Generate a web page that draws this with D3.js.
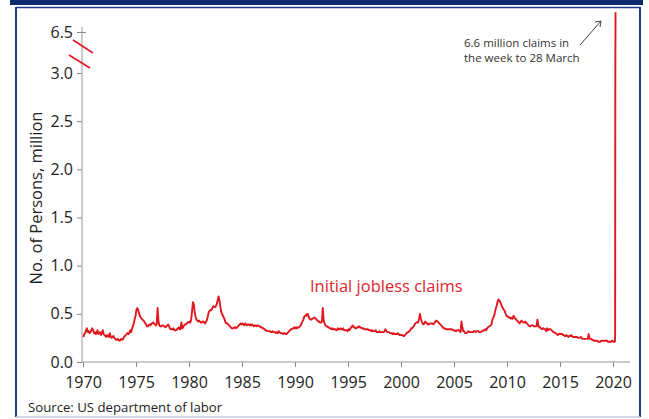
<!DOCTYPE html>
<html>
<head>
<meta charset="utf-8">
<script src="https://cdn.jsdelivr.net/npm/d3@7"></script>
<style>
  body { margin: 0; background: #fff; }
  text { font-family: "Open Sans", sans-serif; }
</style>
</head>
<body>
<script>
// monthly initial claims, thousands, Jan 1970 .. Feb 2020
var startYear = 1970;
var claims = [
  260, 290, 300, 330, 350, 310, 320, 300, 310, 330, 350, 330,
  300, 310, 290, 300, 330, 290, 300, 310, 280, 300, 330, 290,
  280, 270, 260, 280, 270, 260, 300, 260, 250, 260, 270, 250,
  240, 230, 230, 240, 230, 220, 230, 240, 230, 240, 260, 270,
  280, 290, 300, 290, 300, 330, 310, 340, 370, 400, 440, 480,
  540, 560, 540, 510, 480, 460, 450, 440, 430, 420, 400, 390,
  370, 370, 380, 390, 380, 400, 400, 410, 400, 390, 380, 390,
  560, 420, 380, 370, 370, 380, 380, 370, 370, 360, 370, 380,
  390, 370, 350, 340, 340, 340, 350, 330, 330, 330, 340, 350,
  360, 340, 340, 410, 350, 360, 380, 390, 390, 400, 410, 410,
  420, 410, 440, 520, 620, 600, 520, 470, 440, 430, 420, 430,
  420, 410, 410, 420, 420, 410, 400, 420, 440, 480, 520, 530,
  540, 540, 560, 580, 570, 570, 580, 600, 640, 680, 640, 580,
  520, 500, 480, 460, 440, 410, 400, 400, 390, 380, 370, 360,
  350, 350, 350, 360, 360, 350, 360, 370, 380, 390, 400, 390,
  400, 390, 380, 400, 390, 380, 390, 390, 380, 390, 380, 390,
  380, 370, 380, 380, 370, 380, 380, 370, 370, 360, 360, 350,
  350, 340, 330, 330, 320, 320, 320, 320, 310, 310, 320, 310,
  310, 310, 300, 310, 300, 320, 310, 300, 300, 300, 290, 300,
  300, 290, 290, 300, 310, 320, 330, 340, 340, 350, 350, 360,
  350, 360, 350, 360, 360, 370, 380, 400, 420, 440, 470, 480,
  480, 500, 500, 470, 450, 440, 440, 450, 450, 460, 460, 450,
  440, 430, 420, 420, 410, 410, 420, 560, 430, 400, 380, 370,
  370, 360, 360, 350, 350, 340, 350, 340, 340, 340, 330, 330,
  350, 340, 340, 350, 340, 340, 350, 330, 330, 330, 330, 320,
  340, 330, 340, 360, 370, 380, 360, 360, 350, 350, 360, 360,
  370, 360, 360, 350, 350, 350, 340, 340, 340, 340, 340, 330,
  330, 330, 320, 330, 320, 320, 320, 330, 310, 310, 310, 320,
  310, 310, 310, 310, 310, 320, 340, 320, 310, 310, 310, 300,
  300, 300, 290, 300, 290, 290, 290, 290, 300, 290, 280, 280,
  280, 280, 270, 270, 280, 290, 300, 310, 310, 320, 330, 350,
  350, 360, 370, 390, 400, 410, 410, 410, 450, 500, 450, 420,
  400, 390, 400, 420, 410, 400, 390, 390, 400, 400, 400, 400,
  390, 400, 410, 430, 430, 420, 410, 400, 390, 380, 370, 360,
  350, 350, 340, 340, 340, 340, 340, 340, 340, 340, 330, 330,
  330, 320, 320, 330, 330, 330, 320, 310, 420, 360, 320, 320,
  300, 300, 300, 310, 320, 310, 310, 310, 310, 310, 320, 320,
  310, 320, 320, 320, 310, 310, 310, 320, 320, 330, 330, 340,
  330, 350, 360, 370, 370, 380, 390, 440, 460, 480, 520, 560,
  590, 630, 650, 640, 620, 600, 570, 560, 540, 530, 500, 480,
  470, 470, 460, 460, 450, 460, 450, 480, 460, 450, 440, 430,
  420, 410, 400, 420, 430, 420, 410, 410, 420, 410, 400, 390,
  380, 370, 370, 380, 380, 380, 370, 370, 370, 370, 440, 380,
  360, 360, 350, 340, 350, 350, 340, 340, 320, 350, 330, 340,
  340, 340, 330, 320, 310, 310, 300, 300, 290, 280, 290, 290,
  290, 290, 290, 280, 280, 270, 270, 280, 270, 260, 270, 270,
  280, 270, 260, 260, 260, 260, 260, 260, 250, 250, 250, 260,
  250, 240, 240, 240, 240, 240, 240, 240, 290, 240, 240, 240,
  230, 230, 220, 220, 220, 220, 220, 210, 210, 210, 220, 220,
  220, 220, 220, 220, 220, 220, 210, 210, 210, 210, 220, 220,
  210, 210
];
// the last weeks of March 2020
var marchWeeks = ["2020-03-07", "2020-03-14", "2020-03-21", "2020-03-28"];
var marchClaims = [211, 282, 3307, 6648];

var yTicks = [0, 0.5, 1.0, 1.5, 2.0, 2.5, 3.0, 6.5];
var xTicks = [1970, 1975, 1980, 1985, 1990, 1995, 2000, 2005, 2010, 2015, 2020];

var width = 649, height = 419;
var red = "#e3161e";

var svg = d3.select("body").append("svg")
    .attr("width", width)
    .attr("height", height);

// frame
svg.append("rect").attr("x", 10).attr("y", 0).attr("width", 633).attr("height", 5).attr("fill", "#0c2a6e");
svg.append("line").attr("x1", 16).attr("x2", 640).attr("y1", 7.5).attr("y2", 7.5).attr("stroke", "#1c3c8c").attr("stroke-width", 1.5);
svg.append("line").attr("x1", 16).attr("x2", 16).attr("y1", 7).attr("y2", 417).attr("stroke", "#1c3c8c").attr("stroke-width", 2);
svg.append("line").attr("x1", 640).attr("x2", 640).attr("y1", 7).attr("y2", 417).attr("stroke", "#1c3c8c").attr("stroke-width", 2);
svg.append("line").attr("x1", 16).attr("x2", 640).attr("y1", 417).attr("y2", 417).attr("stroke", "#c5cde0").attr("stroke-width", 1.5);

var parse = d3.timeParse("%Y-%m-%d");
var data = claims.map(function(v, i) {
    return { date: new Date(startYear + Math.floor(i / 12), i % 12, 15), value: v / 1000 };
});
marchWeeks.forEach(function(d, i) {
    data.push({ date: parse(d), value: marchClaims[i] / 1000 });
});

var x = d3.scaleTime()
    .domain([new Date(1970, 0, 1), new Date(2020, 0, 1)])
    .range([83, 613]);

// broken axis: 0-3 is linear, then compressed to 6.5 and the spike
var y = d3.scaleLinear()
    .domain([0, 3, 6.5, 6.65])
    .range([362, 73, 32, 12]);

// y axis
var yAxis = svg.append("g")
    .attr("transform", "translate(82,0)")
    .call(d3.axisLeft(y).tickValues(yTicks).tickSize(5).tickPadding(4)
        .tickFormat(d3.format(".1f")));
yAxis.select(".domain").remove();
yAxis.append("line").attr("y1", 27).attr("y2", 362).attr("stroke", "#999");
yAxis.selectAll(".tick line").attr("stroke", "#888");
yAxis.selectAll(".tick text").attr("fill", "#222").style("font-size", "16px");
yAxis.selectAll(".tick").filter(function(d) { return d === 6.5; })
    .select("line").attr("x1", 4);

// x axis
var xAxis = svg.append("g")
    .attr("transform", "translate(0,362)")
    .call(d3.axisBottom(x)
        .tickValues(xTicks.map(function(d) { return new Date(d, 0, 1); }))
        .tickSize(5).tickPadding(10).tickFormat(d3.timeFormat("%Y")));
xAxis.select(".domain").remove();
xAxis.append("line").attr("x1", 82).attr("x2", 630).attr("stroke", "#999");
xAxis.selectAll(".tick line").attr("stroke", "#888");
xAxis.selectAll(".tick text").attr("fill", "#222").style("font-size", "16px");

// axis break marks
svg.append("line").attr("x1", 73).attr("y1", 40).attr("x2", 93).attr("y2", 53)
    .attr("stroke", red).attr("stroke-width", 1.5);
svg.append("line").attr("x1", 69).attr("y1", 55).attr("x2", 90).attr("y2", 68)
    .attr("stroke", red).attr("stroke-width", 1.5);

// line
var line = d3.line()
    .x(function(d) { return x(d.date); })
    .y(function(d) { return y(d.value); });

svg.append("path")
    .datum(data)
    .attr("fill", "none")
    .attr("stroke", red)
    .attr("stroke-width", 1.9)
    .attr("stroke-linejoin", "round")
    .attr("d", line);

// labels
svg.append("text")
    .attr("transform", "translate(42,198) rotate(-90)")
    .attr("text-anchor", "middle")
    .style("font-size", "16.5px")
    .attr("fill", "#222")
    .text("No. of Persons, million");

svg.append("text")
    .attr("x", 310).attr("y", 292)
    .style("font-size", "16.5px")
    .attr("fill", "#e0262e")
    .text("Initial jobless claims");

svg.append("text")
    .attr("x", 28).attr("y", 412)
    .style("font-size", "13.2px")
    .attr("fill", "#222")
    .text("Source: US department of labor");

svg.append("text")
    .attr("x", 464).attr("y", 47)
    .style("font-size", "11.5px")
    .attr("fill", "#333")
    .text("6.6 million claims in");
svg.append("text")
    .attr("x", 464).attr("y", 62)
    .style("font-size", "11.5px")
    .attr("fill", "#333")
    .text("the week to 28 March");

// arrow
svg.append("line").attr("x1", 580).attr("y1", 45).attr("x2", 601).attr("y2", 21)
    .attr("stroke", "#444").attr("stroke-width", 1);
svg.append("path").attr("d", "M595,22 L601,21 L600,27")
    .attr("fill", "none").attr("stroke", "#444").attr("stroke-width", 1);
</script>
</body>
</html>
